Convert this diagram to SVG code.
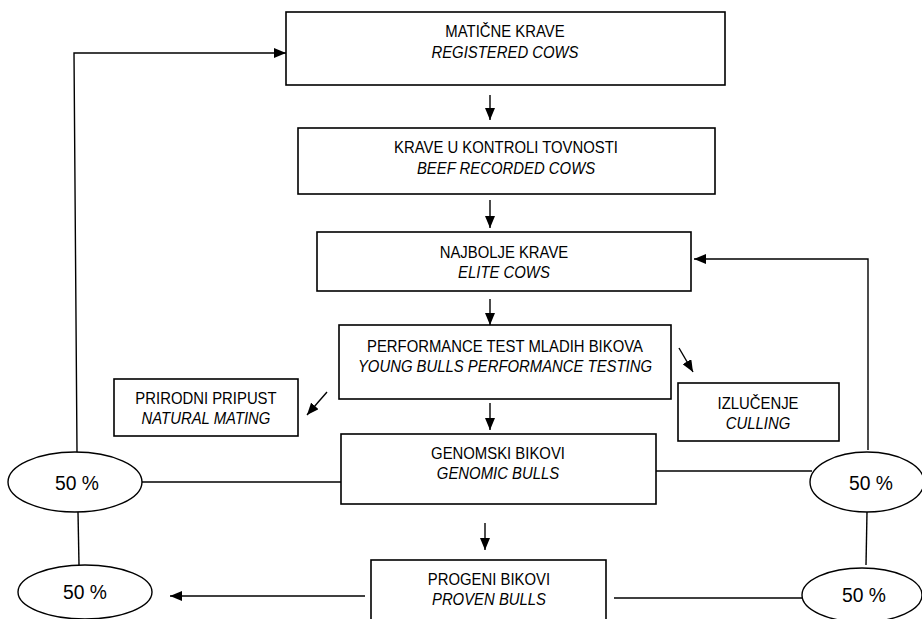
<svg xmlns="http://www.w3.org/2000/svg" width="922" height="619" viewBox="0 0 922 619">
<defs>
<marker id="ah" viewBox="0 0 12 10" refX="12" refY="5" markerWidth="12" markerHeight="10" markerUnits="userSpaceOnUse" orient="auto">
<path d="M0,0 L12,5 L0,10 Z" fill="#000"/>
</marker>
<style>
.box{fill:#fff;stroke:#000;stroke-width:1.6}
.ell{fill:#fff;stroke:#000;stroke-width:1.4}
.ln{fill:none;stroke:#000;stroke-width:1.4}
.ar{fill:none;stroke:#000;stroke-width:1.4;marker-end:url(#ah)}
text{font-family:"Liberation Sans",Arial,sans-serif;font-size:16px;fill:#000;text-anchor:middle}
.it{font-style:italic}
.pc{font-size:21px}
</style>
</defs>
<rect width="922" height="619" fill="#fff"/>
<g id="connectors">
<polyline class="ar" points="77,452 74,53 286,53"/>
<polyline class="ar" points="868,450 868,259 694,259"/>
<line class="ar" x1="490" y1="95" x2="490" y2="120"/>
<line class="ar" x1="490" y1="200" x2="490" y2="228"/>
<line class="ar" x1="490" y1="299" x2="490" y2="325"/>
<line class="ar" x1="490" y1="403" x2="490" y2="430"/>
<line class="ar" x1="485" y1="523" x2="485" y2="550"/>
<line class="ar" x1="327" y1="392" x2="307" y2="415"/>
<line class="ar" x1="679" y1="348" x2="693" y2="372"/>
<line class="ln" x1="142" y1="482" x2="342" y2="482"/>
<line class="ln" x1="653" y1="471" x2="812" y2="471"/>
<line class="ln" x1="78" y1="512" x2="79" y2="565"/>
<line class="ln" x1="867" y1="512" x2="866" y2="565"/>
<line class="ar" x1="365" y1="596" x2="170" y2="596"/>
<line class="ln" x1="614" y1="598" x2="802" y2="598"/>
</g>
<g id="registered">
<rect class="box" x="286" y="12" width="439" height="73"/>
<g transform="scale(0.93,1)">
<text x="543" y="37">MATIČNE KRAVE</text>
<text class="it" x="543" y="58">REGISTERED COWS</text>
</g>
</g>
<g id="beef-recorded">
<rect class="box" x="298" y="128" width="417" height="66"/>
<g transform="scale(0.93,1)">
<text x="544.1" y="153">KRAVE U KONTROLI TOVNOSTI</text>
<text class="it" x="544.1" y="174">BEEF RECORDED COWS</text>
</g>
</g>
<g id="elite">
<rect class="box" x="317" y="232" width="374" height="59"/>
<g transform="scale(0.93,1)">
<text x="541.9" y="258">NAJBOLJE KRAVE</text>
<text class="it" x="541.9" y="278">ELITE COWS</text>
</g>
</g>
<g id="performance">
<rect class="box" x="339" y="325" width="332" height="74"/>
<g transform="scale(0.93,1)">
<text x="543" y="352">PERFORMANCE TEST MLADIH BIKOVA</text>
<text class="it" x="543" y="372">YOUNG BULLS PERFORMANCE TESTING</text>
</g>
</g>
<g id="natural">
<rect class="box" x="114" y="379" width="184" height="57"/>
<g transform="scale(0.93,1)">
<text x="221.5" y="404">PRIRODNI PRIPUST</text>
<text class="it" x="221.5" y="424">NATURAL MATING</text>
</g>
</g>
<g id="culling">
<rect class="box" x="678" y="383" width="161" height="58"/>
<g transform="scale(0.93,1)">
<text x="815.1" y="409">IZLUČENJE</text>
<text class="it" x="815.1" y="429">CULLING</text>
</g>
</g>
<g id="genomic">
<rect class="box" x="341" y="434" width="315" height="70"/>
<g transform="scale(0.93,1)">
<text x="535.5" y="459">GENOMSKI BIKOVI</text>
<text class="it" x="535.5" y="479">GENOMIC BULLS</text>
</g>
</g>
<g id="proven">
<rect class="box" x="371" y="560" width="235" height="70"/>
<g transform="scale(0.93,1)">
<text x="525.8" y="585">PROGENI BIKOVI</text>
<text class="it" x="525.8" y="605">PROVEN BULLS</text>
</g>
</g>
<g id="pct-left-1">
<ellipse class="ell" cx="75" cy="482" rx="67" ry="30"/>
<text class="pc" x="83.7" y="490" transform="scale(0.92,1)">50 %</text>
</g>
<g id="pct-left-2">
<ellipse class="ell" cx="85" cy="592" rx="67" ry="27"/>
<text class="pc" x="92.4" y="599" transform="scale(0.92,1)">50 %</text>
</g>
<g id="pct-right-1">
<ellipse class="ell" cx="867" cy="482" rx="57" ry="30"/>
<text class="pc" x="946.7" y="490" transform="scale(0.92,1)">50 %</text>
</g>
<g id="pct-right-2">
<ellipse class="ell" cx="862" cy="595" rx="60" ry="27"/>
<text class="pc" x="939.1" y="602" transform="scale(0.92,1)">50 %</text>
</g>
</svg>
